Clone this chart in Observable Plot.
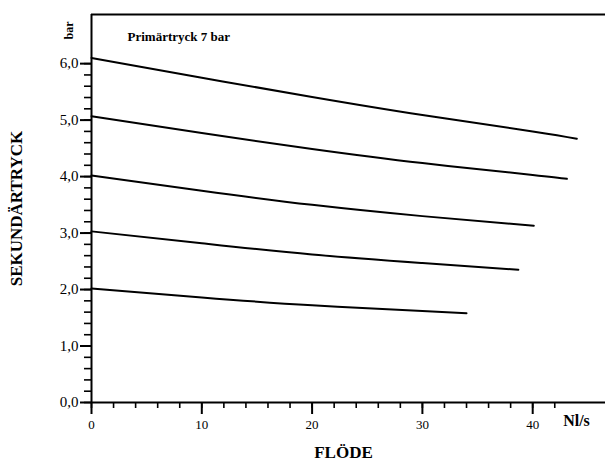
<!DOCTYPE html>
<html>
<head>
<meta charset="utf-8">
<script src="https://cdn.jsdelivr.net/npm/d3@7"></script>
<script src="https://cdn.jsdelivr.net/npm/@observablehq/plot@0.6"></script>
<style>
  html, body { margin: 0; padding: 0; background: #fff; }
  #chart svg { display: block; }
</style>
</head>
<body>
<div id="chart"></div>
<script>
// Flow (Nl/s) and secondary pressure (bar) for each curve
const flow1 = [0, 10, 20, 30, 40, 44];
const press1 = [6.10, 5.75, 5.41, 5.09, 4.80, 4.67];
const flow2 = [0, 10, 20, 30, 40, 43.1];
const press2 = [5.07, 4.77, 4.49, 4.24, 4.03, 3.96];
const flow3 = [0, 10, 20, 30, 40.1];
const press3 = [4.02, 3.75, 3.50, 3.30, 3.13];
const flow4 = [0, 10, 20, 30, 38.7];
const press4 = [3.03, 2.82, 2.62, 2.47, 2.35];
const flow5 = [0, 10, 20, 30, 34];
const press5 = [2.02, 1.86, 1.72, 1.62, 1.58];

const xMajor = [0, 10, 20, 30, 40];
const xMinor = d3.range(0, 43, 2);
const yMajor = [0, 1, 2, 3, 4, 5, 6];
const yMinor = d3.range(0, 6.01, 0.2);
const xMax = 46.6;
const yMax = 6.87;

const toRows = (fx, py, s) => fx.map((f, i) => ({flow: f, p: py[i], s}));
const rows = [
  ...toRows(flow1, press1, "A"),
  ...toRows(flow2, press2, "B"),
  ...toRows(flow3, press3, "C"),
  ...toRows(flow4, press4, "D"),
  ...toRows(flow5, press5, "E")
];

const fmt = d => d.toFixed(1).replace(".", ",");

const chart = Plot.plot({
  width: 605,
  height: 464,
  marginLeft: 91,
  marginTop: 14,
  marginBottom: 62,
  marginRight: 0,
  style: {fontFamily: "Liberation Serif", color: "black", background: "white"},
  x: {domain: [0, xMax]},
  y: {domain: [0, yMax]},
  marks: [
    Plot.axisX(xMinor, {tickSize: 6, strokeWidth: 1.6, tickFormat: () => "", label: null}),
    Plot.axisX(xMajor, {tickSize: 12, strokeWidth: 2, tickPadding: 5, fontSize: 13, tickFormat: d => String(d), label: null}),
    Plot.axisY(yMinor, {tickSize: 7, strokeWidth: 1.6, tickFormat: () => "", label: null}),
    Plot.axisY(yMajor, {tickSize: 11, strokeWidth: 2, tickPadding: 2, fontSize: 15, tickFormat: fmt, label: null}),
    Plot.ruleY([0, yMax], {stroke: "black", strokeWidth: 2}),
    Plot.ruleX([0], {stroke: "black", strokeWidth: 2}),
    Plot.line(rows, {x: "flow", y: "p", z: "s", stroke: "black", strokeWidth: 2, curve: "natural"}),
    Plot.text(["Primärtryck 7 bar"], {frameAnchor: "top-left", dx: 36, dy: 22, textAnchor: "start", lineAnchor: "middle", fontWeight: "bold", fontSize: 13}),
    Plot.text(["bar"], {frameAnchor: "top-left", dx: -22, dy: 16, textAnchor: "middle", lineAnchor: "middle", rotate: -90, fontWeight: "bold", fontSize: 12}),
    Plot.text(["SEKUNDÄRTRYCK"], {frameAnchor: "left", dx: -75, textAnchor: "middle", lineAnchor: "middle", rotate: -90, fontWeight: "bold", fontSize: 17}),
    Plot.text(["FLÖDE"], {frameAnchor: "bottom-left", dx: 252, dy: 50, textAnchor: "middle", lineAnchor: "middle", fontWeight: "bold", fontSize: 17}),
    Plot.text(["Nl/s"], {frameAnchor: "bottom-left", dx: 485, dy: 18, textAnchor: "middle", lineAnchor: "middle", fontWeight: "bold", fontSize: 16})
  ]
});
document.getElementById("chart").appendChild(chart);
</script>
</body>
</html>
